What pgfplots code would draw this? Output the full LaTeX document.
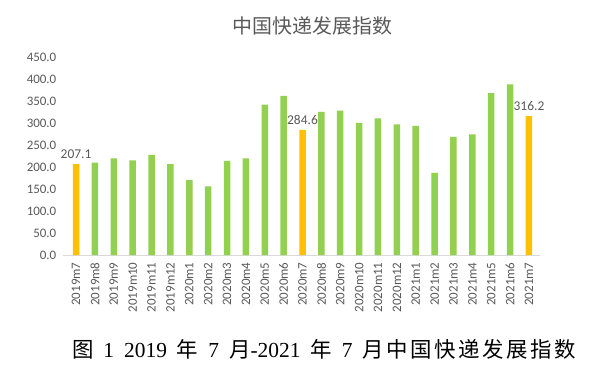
\documentclass[border=0pt]{standalone}
\usepackage{pgfplots}
\pgfplotsset{compat=1.18}
\usepackage{fontspec}
\setmainfont{Liberation Serif}
\newfontfamily\cjk{Noto Sans CJK SC}
\newfontfamily\cjkcap[LetterSpace=12]{Noto Sans CJK SC}
\newfontfamily\lab{Carlito}
\definecolor{bargreen}{HTML}{92D050}
\definecolor{barorange}{HTML}{FFC000}
\definecolor{txtgray}{HTML}{595959}
\definecolor{axgray}{HTML}{D9D9D9}
\begin{document}
\begin{tikzpicture}[x=1bp,y=1bp]
\path[use as bounding box] (0,0) rectangle (596,372);
\begin{axis}[
  at={(62.8bp,117bp)}, anchor=south west,
  scale only axis, width=477.5bp, height=197.7bp,
  ymin=0, ymax=450, xmin=-0.7, xmax=24.6,
  ytick={0,50,...,450},
  yticklabel={\pgfmathprintnumber[fixed,fixed zerofill,precision=1]{\tick}},
  xtick={0,...,24},
  xticklabels={2019m7,2019m8,2019m9,2019m10,2019m11,2019m12,2020m1,2020m2,2020m3,2020m4,2020m5,2020m6,2020m7,2020m8,2020m9,2020m10,2020m11,2020m12,2021m1,2021m2,2021m3,2021m4,2021m5,2021m6,2021m7},
  /pgf/number format/assume math mode=true,
  ticklabel style={font=\lab\fontsize{13}{15}\selectfont, text=txtgray},
  xticklabel style={rotate=90, anchor=east, yshift=0bp, xshift=-4bp},
  yticklabel style={xshift=-3bp},
  major tick length=0pt,
  axis x line*=bottom, axis y line*=left,
  x axis line style={draw=axgray, line width=0.8pt, -},
  y axis line style={draw=none},
  ybar, bar width=6.5bp,
]
\addplot[fill=bargreen, draw=none, bar shift=0pt] coordinates {
(1,210) (2,220) (3,215.5) (4,228) (5,207) (6,170.7) (7,156) (8,214) (9,220) (10,342) (11,362)
(13,326) (14,328.5) (15,301) (16,311) (17,297.5) (18,294) (19,187) (20,268.6) (21,274.7) (22,368.7) (23,388.5)
};
\addplot[fill=barorange, draw=none, bar shift=0pt,
  nodes near coords, point meta=explicit symbolic,
  every node near coord/.append style={font=\lab\fontsize{13.5}{15}\selectfont, text=txtgray, yshift=2bp}] coordinates {
(0,207.1) [207.1] (12,284.6) [284.6] (24,316.2) [316.2]
};
\end{axis}
\node[text=txtgray, font=\cjk\fontsize{20}{23}\selectfont] at (312.5,346.5) {中国快递发展指数};
\node[text=black, font=\fontsize{21.5}{26}\selectfont] at (324,23) {{\cjkcap 图}\hspace{10bp}1\hspace{10bp}2019\hspace{10bp}{\cjkcap 年}\hspace{10bp}7\hspace{10bp}{\cjkcap 月}-2021\hspace{10bp}{\cjkcap 年}\hspace{10bp}7\hspace{10bp}{\cjkcap 月中国快递发展指数}};
\end{tikzpicture}
\end{document}
